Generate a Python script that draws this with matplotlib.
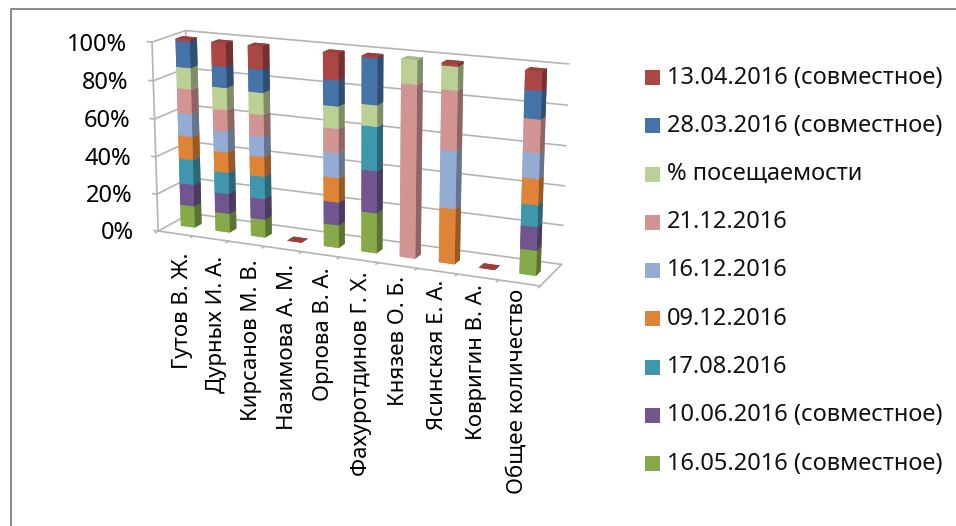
#!/usr/bin/env python3
import matplotlib

matplotlib.use("Agg")
import matplotlib.pyplot as plt
import matplotlib.patches as mpatches
from matplotlib.colors import to_rgb
from mpl_toolkits.mplot3d import proj3d
import numpy as np

plt.rcParams["font.family"] = ["Noto Sans", "DejaVu Sans"]

names = ["Гутов В. Ж.", "Дурных И. А.", "Кирсанов М. В.", "Назимова А. М.", "Орлова В. А.",
         "Фахуротдинов Г. Х.", "Князев О. Б.", "Ясинская Е. А.", "Ковригин В. А.", "Общее количество"]
series = ["16.05.2016 (совместное)", "10.06.2016 (совместное)", "17.08.2016", "09.12.2016", "16.12.2016",
          "21.12.2016", "% посещаемости", "28.03.2016 (совместное)", "13.04.2016 (совместное)"]
colors = ["#86A94A", "#71558F", "#3F97AE", "#DE8439", "#94ABD3", "#D29493", "#BAD095", "#4572A7", "#AA4643"]

s_1605 = [11.6, 10.1, 9.6, 0, 11.9, 20.8, 0, 0, 0, 12.6]
s_1006 = [11.6, 10.7, 11.0, 0, 11.9, 21.7, 0, 0, 0, 11.8]
s_1708 = [13.4, 11.2, 11.8, 0, 0, 22.5, 0, 0, 0, 10.7]
s_0912 = [12.5, 11.0, 10.5, 0, 12.8, 0, 0, 28.2, 0, 13.0]
s_1612 = [12.0, 11.0, 10.5, 0, 12.8, 0, 0, 29.0, 0, 12.6]
s_2112 = [13.0, 11.2, 11.4, 0, 12.4, 0, 88.0, 29.8, 0, 16.3]
s_pos = [11.2, 11.6, 11.4, 0, 11.4, 10.8, 12.0, 11.6, 0, 0]
s_2803 = [13.7, 11.0, 11.9, 0, 13.1, 23.3, 0, 0, 0, 13.7]
s_1304 = [1.0, 12.1, 11.8, 0, 13.6, 0.8, 0, 1.3, 0, 9.2]
values = [s_1605, s_1006, s_1708, s_0912, s_1612, s_2112, s_pos, s_2803, s_1304]
z_ticks = [0, 20, 40, 60, 80, 100]

DEPTH = 1.6
GRID = "#b4b4b4"
CX, CY, HALF = 340, 165, 500  # centre of the 3d box on the page, pixels


def shaded(color, k):
    return tuple(c * k for c in to_rgb(color))


fig = plt.figure(figsize=(9.56, 5.26), dpi=100)
fig.add_artist(plt.Line2D([11 / 956, 11 / 956, 1], [0, 1 - 9 / 526, 1 - 9 / 526], color="#8c8c8c", lw=1.5))

ax = fig.add_axes([(CX - HALF) / 956, (526 - CY - HALF) / 526, 2 * HALF / 956, 2 * HALF / 526], projection="3d")
ax.set_axis_off()
ax.set_proj_type("persp", focal_length=0.3)
ax.view_init(elev=15, azim=-66)
ax.set_xlim(0, 10)
ax.set_ylim(0, DEPTH)
ax.set_zlim(0, 100)
ax.set_box_aspect((9.75, DEPTH, 4.7), zoom=0.455)

# walls
for z in z_ticks:
    ax.plot([0, 0, 10], [0, DEPTH, DEPTH], [z, z, z], color=GRID, lw=1.2)
    ax.plot([0, -0.12], [0, 0], [z, z], color=GRID, lw=1.2)
ax.plot([0, 0], [0, 0], [0, 100], color=GRID, lw=1.2)
ax.plot([0, 0], [DEPTH, DEPTH], [0, 100], color=GRID, lw=1.2)
ax.plot([0, 10, 10], [0, 0, DEPTH], [0, 0, 0], color=GRID, lw=1.2)
for i in range(11):
    ax.plot([i, i], [0, -0.12], [0, 0], color=GRID, lw=1.2)

# columns
xs, bottoms, heights, face_colors = [], [], [], []
for i in range(len(names)):
    base = 0
    for vals, col in zip(values, colors):
        v = vals[i]
        if v <= 0:
            continue
        xs.append(i + 0.3)
        bottoms.append(base)
        heights.append(v)
        # -z, +z, -y, +y, -x, +x
        face_colors += [col, shaded(col, 0.9), col, col, col, shaded(col, 0.68)]
        base += v
    if base == 0:
        xs.append(i + 0.3)
        bottoms.append(0)
        heights.append(0.01)
        face_colors += [shaded(colors[-1], 0.9)] * 6

ax.bar3d(xs, np.full(len(xs), 0.6), bottoms, 0.4, 0.35, heights, color=face_colors, shade=False)


def label_3d(x, y, z, text, dx=0, dy=0, **kw):
    # Text3D ignores rotation, so anchor in 2d at the projected point
    px, py, _ = proj3d.proj_transform(x, y, z, ax.get_proj())
    ax.annotate(text, xy=(px, py), xycoords="data", xytext=(dx, dy), textcoords="offset pixels", **kw)


for z in z_ticks:
    label_3d(-0.7, 0, z, f"{z}%", dy=-5, ha="right", va="center", fontsize=17)
for i, name in enumerate(names):
    label_3d(0.85 + i * 0.965, -0.25, 0, name, dy=-(14 - 12 * i / 9), rotation=90,
             ha="center", va="top", fontsize=16)

# legend drawn by hand, top entry is the last series
top = 77.5
step = 48.25
for k, (label, col) in enumerate(zip(series[::-1], colors[::-1])):
    y = 1 - (top + k * step) / 526
    fig.add_artist(mpatches.Rectangle((645 / 956, y - 7.5 / 526), 15 / 956, 15 / 526, facecolor=col, edgecolor="none"))
    fig.text(667 / 956, y, label, fontsize=17, va="center", ha="left", color="#111111")

fig.savefig("out.png", dpi=100)
